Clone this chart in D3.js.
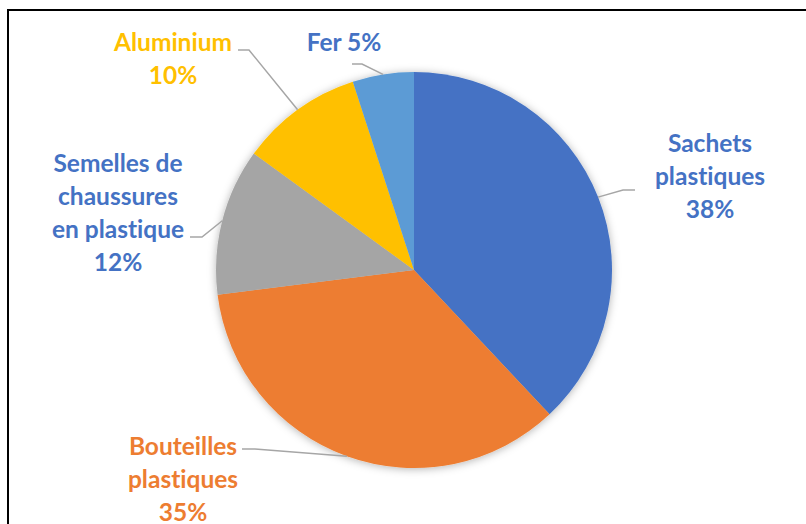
<!DOCTYPE html>
<html>
<head>
<meta charset="utf-8">
<script src="https://cdn.jsdelivr.net/npm/d3@7"></script>
<style>
  body { margin: 0; background: #fff; }
  svg { display: block; }
  .lbl { font-family: Lato, "Open Sans", sans-serif; font-weight: 700; font-size: 24.5px; font-variant-ligatures: none; }
</style>
</head>
<body>
<svg width="806" height="524"></svg>
<script>
// Data
const categories = ["Sachets plastiques", "Bouteilles plastiques", "Semelles de chaussures en plastique", "Aluminium", "Fer"];
const values = [38, 35, 12, 10, 5];
const labelLines = [
    ["Sachets", "plastiques", "38%"],
    ["Bouteilles", "plastiques", "35%"],
    ["Semelles de", "chaussures", "en plastique", "12%"],
    ["Aluminium", "10%"],
    ["Fer 5%"]
];
const colors = ["#4472C4", "#ED7D31", "#A5A5A5", "#FFC000", "#5B9BD5"];
const textColors = ["#4472C4", "#ED7D31", "#4472C4", "#FFC000", "#4472C4"];

// Layout of labels (where Excel put them): centre x, first baseline, leader elbow, leader end
const labelLayout = [
    { x: 710, y: 152, elbow: [623, 190], end: [635, 190] },
    { x: 183, y: 455, elbow: [255, 449], end: [242, 449] },
    { x: 118, y: 172, elbow: [202, 237], end: [190, 237] },
    { x: 173, y: 51, elbow: [249, 50], end: [238, 50] },
    { x: 344, y: 51, elbow: [362, 64], end: [352, 64] }
];

const svg = d3.select("svg");
const cx = 414, cy = 270, radius = 198;
const lineHeight = 33;

// frame
svg.append("rect")
    .attr("x", 8).attr("y", 10)
    .attr("width", 900).attr("height", 700)
    .attr("fill", "none")
    .attr("stroke", "#000")
    .attr("stroke-width", 2);

// soft shadow like Excel
const defs = svg.append("defs");
const f = defs.append("filter").attr("id", "shadow")
    .attr("x", "-20%").attr("y", "-20%").attr("width", "140%").attr("height", "140%");
f.append("feDropShadow")
    .attr("dx", 0).attr("dy", 1)
    .attr("stdDeviation", 4)
    .attr("flood-color", "#000")
    .attr("flood-opacity", 0.3);

const pie = d3.pie().sort(null).value(d => d);
const arcs = pie(values);
const arc = d3.arc().innerRadius(0).outerRadius(radius);
const edge = d3.arc().innerRadius(radius).outerRadius(radius);

const g = svg.append("g").attr("transform", "translate(" + cx + "," + cy + ")");

g.append("g").attr("filter", "url(#shadow)")
    .selectAll("path")
    .data(arcs)
    .enter().append("path")
    .attr("d", arc)
    .attr("fill", (d, i) => colors[i]);

// leader lines
svg.selectAll(".leader")
    .data(arcs)
    .enter().append("polyline")
    .attr("class", "leader")
    .attr("fill", "none")
    .attr("stroke", "#A6A6A6")
    .attr("stroke-width", 1.5)
    .attr("points", function (d, i) {
        const c = edge.centroid(d);
        const L = labelLayout[i];
        return [[cx + c[0], cy + c[1]], L.elbow, L.end].map(p => p.join(",")).join(" ");
    });

// labels
const labels = svg.selectAll(".lbl")
    .data(arcs)
    .enter().append("text")
    .attr("class", "lbl")
    .attr("text-anchor", "middle")
    .attr("fill", (d, i) => textColors[i]);

labels.each(function (d, i) {
    const t = d3.select(this);
    const L = labelLayout[i];
    labelLines[i].forEach(function (s, k) {
        t.append("tspan")
            .attr("x", L.x)
            .attr("y", L.y + k * lineHeight)
            .text(s);
    });
});
</script>
</body>
</html>
